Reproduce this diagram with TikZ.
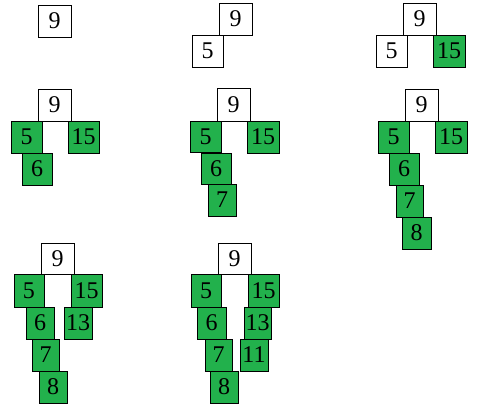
\documentclass[tikz,border=0pt]{standalone}
\usepackage{fontspec}
\setmainfont{Liberation Serif}
\definecolor{leafgreen}{RGB}{34,177,76}
\begin{document}
\begin{tikzpicture}[x=1pt,y=-1pt,line width=0.8pt,
	wbox/.style={draw=black,fill=white},
	gbox/.style={draw=black,fill=leafgreen},
	every node/.style={font=\fontsize{24}{24}\selectfont,inner sep=0pt}]
\useasboundingbox (0,0) rectangle (479,407);

%%%%%%%%%%%%%%%%%%%%%%%%%%%%%%%%%%%%%%

\draw [wbox] (38,5) rectangle node (ar) {9} (71,37);

%%%%%%%%%%%%%%%%%%%%%%%%%%%%%%%%%%%%%%

\draw [wbox] (219,3) rectangle node (br) {9} (252,35);
\draw [wbox] (192,35) rectangle node (bl) {5} (223,67);

%%%%%%%%%%%%%%%%%%%%%%%%%%%%%%%%%%%%%%

\draw [wbox] (403,3) rectangle node (cr) {9} (436,35);
\draw [wbox] (376,35) rectangle node (cl) {5} (407,67);
\draw [gbox] (433,35) rectangle node (cg) {15} (465,67);

%%%%%%%%%%%%%%%%%%%%%%%%%%%%%%%%%%%%%%

\draw [wbox] (38,89) rectangle node (dr) {9} (71,121);
\draw [gbox] (11,121) rectangle node (dl) {5} (42,153);
\draw [gbox] (68,121) rectangle node (dg) {15} (99,153);
\draw [gbox] (22,153) rectangle node (dll) {6} (52,185);

%%%%%%%%%%%%%%%%%%%%%%%%%%%%%%%%%%%%%%

\draw [wbox] (217,88) rectangle node (er) {9} (250,121);
\draw [gbox] (190,121) rectangle node (el) {5} (221,152);
\draw [gbox] (247,121) rectangle node (eg) {15} (279,153);
\draw [gbox] (201,153) rectangle node (ell) {6} (231,184);
\draw [gbox] (208,184) rectangle node (elll) {7} (236,216);

%%%%%%%%%%%%%%%%%%%%%%%%%%%%%%%%%%%%%%

\draw [wbox] (405,89) rectangle node (fr) {9} (438,121);
\draw [gbox] (378,121) rectangle node (fl) {5} (409,153);
\draw [gbox] (435,121) rectangle node (fg) {15} (467,153);
\draw [gbox] (389,153) rectangle node (fll) {6} (419,185);
\draw [gbox] (396,185) rectangle node (flll) {7} (423,217);
\draw [gbox] (402,217) rectangle node (fllll) {8} (431,249);

%%%%%%%%%%%%%%%%%%%%%%%%%%%%%%%%%%%%%%

\draw [wbox] (41,243) rectangle node (gr) {9} (74,274);
\draw [gbox] (14,274) rectangle node (gl) {5} (44,307);
\draw [gbox] (71,274) rectangle node (gg) {15} (102,307);
\draw [gbox] (26,307) rectangle node (gll) {6} (54,339);
\draw [gbox] (64,307) rectangle node (ggl) {13} (92,339);
\draw [gbox] (32,339) rectangle node (glll) {7} (59,371);
\draw [gbox] (39,371) rectangle node (gllll) {8} (67,403);

%%%%%%%%%%%%%%%%%%%%%%%%%%%%%%%%%%%%%%

\draw [wbox] (218,243) rectangle node (hr) {9} (251,274);
\draw [gbox] (191,274) rectangle node (hl) {5} (221,307);
\draw [gbox] (248,274) rectangle node (hg) {15} (279,307);
\draw [gbox] (197,307) rectangle node (hll) {6} (226,339);
\draw [gbox] (244,307) rectangle node (hgl) {13} (271,339);
\draw [gbox] (205,339) rectangle node (hlll) {7} (232,371);
\draw [gbox] (240,339) rectangle node (hgll) {11} (268,371);
\draw [gbox] (210,371) rectangle node (hllll) {8} (238,403);

\end{tikzpicture}
\end{document}
